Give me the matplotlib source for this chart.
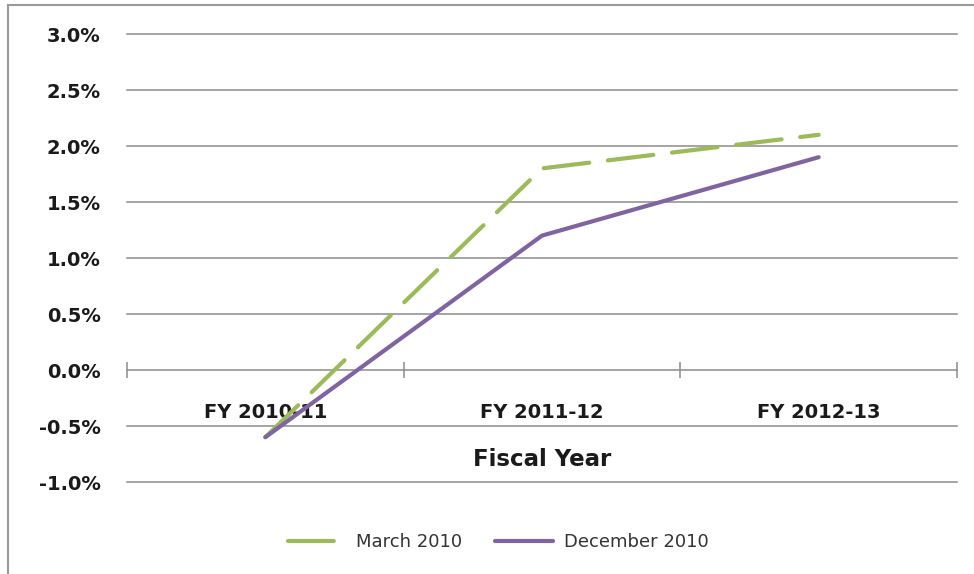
import numpy as np
import matplotlib.pyplot as plt
from matplotlib.ticker import FixedLocator, FuncFormatter

# data (percent)
categories = ["FY 2010-11", "FY 2011-12", "FY 2012-13"]
march_2010 = [-0.6, 1.8, 2.1]
december_2010 = [-0.6, 1.2, 1.9]
yticks = [-1.0, -0.5, 0.0, 0.5, 1.0, 1.5, 2.0, 2.5, 3.0]

green = "#9BBB59"
purple = "#8064A2"
grid = "#8C8C8C"

fig = plt.figure(figsize=(9.74, 5.74), dpi=100)
ax = fig.add_axes([127/974, 1-482/574, (957-127)/974, (482-34)/574])

x = np.arange(len(categories))

# horizontal gridlines
for v in yticks:
    if v != 0.0:
        ax.axhline(v, color=grid, lw=1.1, zorder=1, clip_on=False)

ax.plot(x, march_2010, color=green, lw=3, dashes=(11, 4.5),
        solid_capstyle="round", dash_capstyle="round", label="March 2010", zorder=3)
ax.plot(x, december_2010, color=purple, lw=3, solid_capstyle="round",
        label="December 2010", zorder=3)

ax.set_xlim(-0.5, len(categories) - 0.5)
ax.set_ylim(min(yticks), max(yticks))

for s in ["top", "right", "left"]:
    ax.spines[s].set_visible(False)
ax.spines["bottom"].set_position(("data", 0))
ax.spines["bottom"].set_color(grid)
ax.spines["bottom"].set_linewidth(1.1)

ax.set_yticks(yticks)
ax.yaxis.set_major_formatter(FuncFormatter(lambda v, p: f"{v:.1f}%"))
ax.tick_params(axis="y", length=0, pad=19, labelsize=14, labelcolor="#1a1a1a")
for t in ax.get_yticklabels():
    t.set_fontweight("bold")

# category boundary ticks on the zero line, labels in between
ax.xaxis.set_major_locator(FixedLocator(np.arange(len(categories) + 1) - 0.5))
ax.xaxis.set_major_formatter(FuncFormatter(lambda v, p: ""))
ax.tick_params(axis="x", which="major", direction="inout", length=12,
               width=1.1, color=grid)
ax.set_xticks(x, minor=True)
ax.set_xticklabels(categories, minor=True, fontsize=14, fontweight="bold",
                   color="#1a1a1a")
ax.tick_params(axis="x", which="minor", length=0, pad=24)

ax.text(1, -0.8, "Fiscal Year", ha="center", va="center", fontsize=16.5,
        fontweight="bold", color="#1a1a1a")

fig.legend(loc="center", bbox_to_anchor=(498/974, 1-542/574), ncol=2,
           frameon=False, fontsize=13, handlelength=3.2, handletextpad=0.6,
           columnspacing=1.8, labelcolor="#333333")

# outer chart border (only left and top edges are visible in the crop)
fig.add_artist(plt.Line2D([8/974, 8/974], [0, 1-5/574], color="#9a9a9a", lw=1.5))
fig.add_artist(plt.Line2D([8/974, 1], [1-5/574, 1-5/574], color="#9a9a9a", lw=1.5))

fig.savefig("out.png", dpi=100)
